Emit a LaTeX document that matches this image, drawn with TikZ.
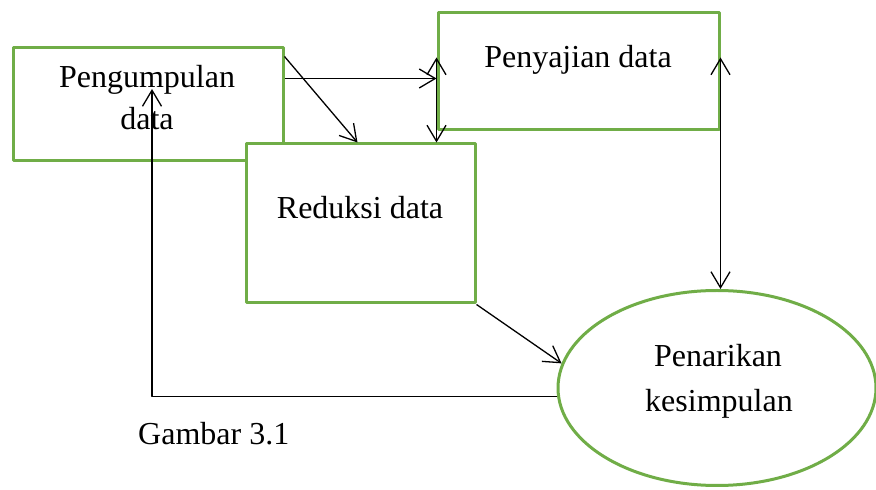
\documentclass[tikz,border=0pt]{standalone}
\usepackage[x11names, rgb]{xcolor}
\usepackage{fontspec}
\setmainfont{Liberation Serif}
\usepackage{tikz}
\usetikzlibrary{arrows.meta,shapes}
\definecolor{hijau}{RGB}{112,173,71}

\begin{document}
\begin{tikzpicture}[>={Straight Barb[length=16bp,width=19bp]},line join=bevel,]
\tikzstyle{kotak}=     [draw=hijau,line width=3bp,fill=white,inner sep=0pt]%
\tikzstyle{teks}=      [font=\fontsize{32bp}{42bp}\selectfont,inner sep=0pt,anchor=base]%
\tikzstyle{panah}=     [line width=1.3bp]%
  \useasboundingbox (0bp,0bp) rectangle (876bp,490bp);
  \node (kumpul) at (148bp,385.5bp) [kotak,minimum width=270bp,minimum height=113bp] {};
  \node (sajian) at (578.5bp,418.5bp) [kotak,minimum width=281bp,minimum height=117bp] {};
  \node (reduksi) at (360.5bp,266.5bp) [kotak,minimum width=229bp,minimum height=159bp] {};
  \node (tarik) at (717bp,102bp) [kotak,ellipse,minimum width=318bp,minimum height=195bp] {};

  \node (t1) at (147bp,402bp) [teks] {Pengumpulan};
  \node (t2) at (147bp,360bp) [teks] {data};
  \node (t3) at (578bp,422bp) [teks] {Penyajian data};
  \node (t4) at (360bp,271bp) [teks] {Reduksi data};
  \node (t5) at (718bp,123bp) [teks] {Penarikan};
  \node (t6) at (719bp,78bp) [teks] {kesimpulan};
  \node (judul) at (138bp,45bp) [teks,anchor=base west] {Gambar 3.1};
  \coordinate (balik) at (152bp,401bp);

  \draw [panah,->] ([yshift=-32bp]kumpul.north east) -- ([yshift=-32bp]kumpul.north east -| sajian.west);
  \draw [panah,->] ([yshift=-10bp]kumpul.north east) -- ([xshift=-3bp]reduksi.north);
  \draw [panah,<->] ([yshift=-46bp]sajian.north west) -- (sajian.west |- reduksi.north);
  \draw [panah,<->] ([yshift=-46bp]sajian.north east) -- (sajian.east |- tarik.north);
  \draw [panah,->] (reduksi.south east) -- (tarik.171);
  \draw [panah,->] (tarik.183) -| (balik);


\end{tikzpicture}
\end{document}
